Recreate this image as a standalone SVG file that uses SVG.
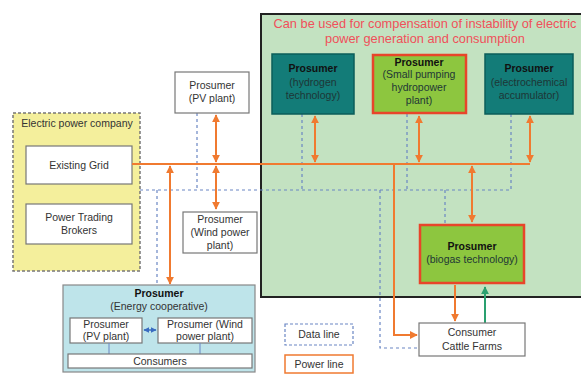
<svg xmlns="http://www.w3.org/2000/svg" width="581" height="374" viewBox="0 0 581 374">
<style>
text{font-family:"Liberation Sans",Arial,sans-serif;font-size:10.5px;fill:#333;text-anchor:middle}
.b{font-weight:bold;fill:#111}
.t{font-size:12.8px;fill:#f0505a}
.d{fill:#1e3636}
.w{fill:#fff;stroke:#777;stroke-width:1.2}
.teal{fill:#137c78;stroke:#0b5d5a;stroke-width:1.5}
.lime{fill:#8dc63f;stroke:#e8452a;stroke-width:2.5}
.pw{stroke:#f07a30;stroke-width:2;fill:none}
.dt{stroke:#6a86c4;stroke-width:1.2;stroke-dasharray:3 3;fill:none}
</style>
<defs>
<marker id="ah" viewBox="0 0 10 10" refX="9" refY="5" markerWidth="4" markerHeight="4" orient="auto-start-reverse"><path d="M0 0L10 5L0 10z" fill="#f07a30"/></marker>
<marker id="ag" viewBox="0 0 10 10" refX="9" refY="5" markerWidth="4" markerHeight="4" orient="auto-start-reverse"><path d="M0 0L10 5L0 10z" fill="#2aa070"/></marker>
<marker id="ab" viewBox="0 0 10 10" refX="9" refY="5" markerWidth="4" markerHeight="4" orient="auto-start-reverse"><path d="M0 0L10 5L0 10z" fill="#3a6cc0"/></marker>
</defs>
<rect width="581" height="374" fill="#fff"/>
<g id="compensation-area">
<rect x="261" y="14" width="325" height="283" fill="#c3e2c1" stroke="#222" stroke-width="2"/>
<text class="t" x="425" y="28">Can be used for compensation of instability of electric</text>
<text class="t" x="425" y="43">power generation and consumption</text>
</g>
<g id="electric-power-company">
<rect x="13" y="113" width="127" height="158" fill="#f4ef9c" stroke="#777" stroke-width="1.5" stroke-dasharray="3 2"/>
<text x="77" y="127" font-size="10">Electric power company</text>
</g>
<g id="existing-grid"><rect class="w" x="26" y="146" width="106" height="38"/><text x="79" y="169">Existing  Grid</text></g>
<g id="power-trading"><rect class="w" x="26" y="204" width="106" height="40"/><text x="79" y="221">Power Trading</text><text x="79" y="234">Brokers</text></g>
<g id="connectors">
<path class="dt" d="M140 190H511M302 114V190M407 114V190M511 114V190M197 113V190M157 190V285M445 190V224M380 190V348H419"/>
<path class="pw" d="M132 164H530"/>
<path class="pw" d="M530 162V116" marker-start="url(#ah)" marker-end="url(#ah)"/>
<path class="pw" d="M315 162V116" marker-start="url(#ah)" marker-end="url(#ah)"/>
<path class="pw" d="M419 162V116" marker-start="url(#ah)" marker-end="url(#ah)"/>
<path class="pw" d="M216 162V115" marker-start="url(#ah)" marker-end="url(#ah)"/>
<path class="pw" d="M216 166V209" marker-start="url(#ah)" marker-end="url(#ah)"/>
<path class="pw" d="M170 166V284" marker-start="url(#ah)" marker-end="url(#ah)"/>
<path class="pw" d="M472 166V222" marker-start="url(#ah)" marker-end="url(#ah)"/>
<path class="pw" d="M394 164V335H417" marker-end="url(#ah)"/>
<path class="pw" d="M455 285V321" marker-end="url(#ah)"/>
<path d="M485 323V287" stroke="#2aa070" stroke-width="2" marker-end="url(#ag)"/>
</g>
<g id="pv-plant"><rect class="w" x="175" y="72" width="74" height="41"/><text x="212" y="89">Prosumer</text><text x="212" y="102">(PV plant)</text></g>
<g id="wind-plant"><rect class="w" x="183" y="212" width="74" height="41"/><text x="220" y="223">Prosumer</text><text x="220" y="236">(Wind power</text><text x="220" y="249">plant)</text></g>
<g id="hydrogen"><rect class="teal" x="272" y="54" width="82" height="60"/><text class="b" x="313" y="72">Prosumer</text><text class="d" x="313" y="86">(hydrogen</text><text class="d" x="313" y="99">technology)</text></g>
<g id="pumping"><rect class="lime" x="373" y="55" width="93" height="58"/><text class="b" x="419" y="66">Prosumer</text><text class="d" x="419" y="78">(Small pumping</text><text class="d" x="419" y="91">hydropower</text><text class="d" x="419" y="104">plant)</text></g>
<g id="electrochemical"><rect class="teal" x="485" y="54" width="88" height="60"/><text class="b" x="529" y="72">Prosumer</text><text class="d" x="529" y="86">(electrochemical</text><text class="d" x="529" y="99">accumulator)</text></g>
<g id="biogas"><rect class="lime" x="420" y="225" width="104" height="58"/><text class="b" x="472" y="250">Prosumer</text><text class="d" x="472" y="263">(biogas technology)</text></g>
<g id="consumer"><rect class="w" x="419" y="323" width="106" height="33"/><text x="472" y="336" fill="#f0404a" font-size="11">Consumer</text><text x="472" y="350">Cattle Farms</text></g>
<g id="energy-cooperative">
<rect x="63" y="285" width="192" height="87" fill="#bee4ea" stroke="#888" stroke-width="1.2"/>
<text class="b" x="159" y="297">Prosumer</text><text x="159" y="310">(Energy cooperative)</text>
<rect class="w" x="70" y="318" width="72" height="25"/><text x="106" y="328">Prosumer</text><text x="106" y="340">(PV plant)</text>
<rect class="w" x="158" y="318" width="94" height="25"/><text x="205" y="328">Prosumer (Wind</text><text x="205" y="340">power plant)</text>
<path d="M144 330H156" stroke="#3a6cc0" stroke-width="1.5" marker-start="url(#ab)" marker-end="url(#ab)"/>
<path d="M109 343V354M200 343V354" stroke="#6a86c4" stroke-width="1"/>
<rect class="w" x="68" y="354" width="184" height="14"/><text x="160" y="365">Consumers</text>
</g>
<g id="legend">
<rect x="285" y="324" width="68" height="21" fill="#fff" stroke="#6a86c4" stroke-width="1.2" stroke-dasharray="3 2"/><text x="319" y="338">Data line</text>
<rect x="285" y="355" width="68" height="18" fill="#fff" stroke="#f07a30" stroke-width="1.5"/><text x="319" y="368">Power line</text>
</g>
</svg>
